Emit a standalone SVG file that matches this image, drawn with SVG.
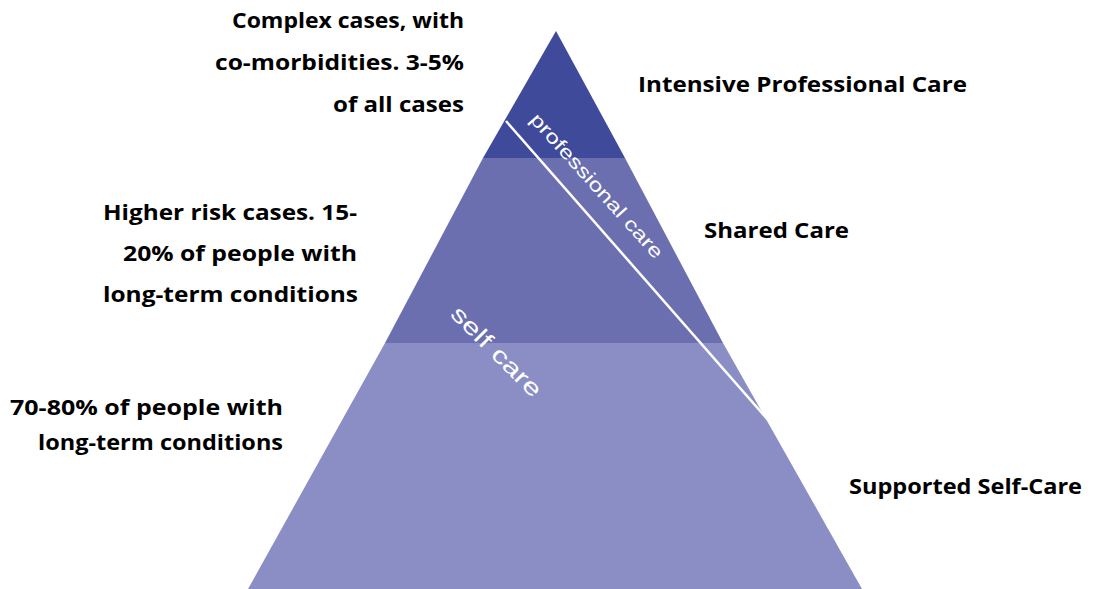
<svg xmlns="http://www.w3.org/2000/svg" width="1102" height="589" viewBox="0 0 1102 589">
<style>
.lbl{font-family:"Open Sans","Liberation Sans",sans-serif;font-weight:bold;font-size:22px;fill:#000}
.in{font-family:"Liberation Sans",Arial,sans-serif;fill:#fff}
</style>
<rect width="1102" height="589" fill="#fff"/>
<g id="pyramid">
<polygon id="band-bottom" points="248,589 862,589 723,343 385,343" fill="#8A8EC4"/>
<polygon id="band-middle" points="385,343 723,343 625,158 483,158" fill="#6B6FB0"/>
<polygon id="band-top" points="483,158 625,158 556,31" fill="#3F4A9B"/>
</g>
<g id="connectors">
<line x1="506" y1="121" x2="769" y2="421" stroke="#fff" stroke-width="2.5"/>
</g>
<g id="inner-labels">
<text class="in" font-size="19" x="592" y="190" text-anchor="middle" transform="rotate(48 592 190)" textLength="188" lengthAdjust="spacingAndGlyphs">professional care</text>
<text class="in" font-size="23" x="491" y="357" text-anchor="middle" transform="rotate(45 491 357)" textLength="118" lengthAdjust="spacingAndGlyphs">self care</text>
</g>
<g id="left-top">
<text class="lbl" x="464" y="28" text-anchor="end" textLength="232" lengthAdjust="spacingAndGlyphs">Complex cases, with</text>
<text class="lbl" x="464" y="70" text-anchor="end" textLength="249" lengthAdjust="spacingAndGlyphs">co-morbidities. 3-5%</text>
<text class="lbl" x="464" y="112" text-anchor="end" textLength="131" lengthAdjust="spacingAndGlyphs">of all cases</text>
</g>
<g id="left-middle">
<text class="lbl" x="357" y="220" text-anchor="end" textLength="254" lengthAdjust="spacingAndGlyphs">Higher risk cases. 15-</text>
<text class="lbl" x="357" y="261" text-anchor="end" textLength="234" lengthAdjust="spacingAndGlyphs">20% of people with</text>
<text class="lbl" x="358" y="302" text-anchor="end" textLength="255" lengthAdjust="spacingAndGlyphs">long-term conditions</text>
</g>
<g id="left-bottom">
<text class="lbl" x="283" y="415" text-anchor="end" textLength="273" lengthAdjust="spacingAndGlyphs">70-80% of people with</text>
<text class="lbl" x="283" y="450" text-anchor="end" textLength="245" lengthAdjust="spacingAndGlyphs">long-term conditions</text>
</g>
<g id="right-top">
<text class="lbl" x="638" y="92" textLength="329" lengthAdjust="spacingAndGlyphs">Intensive Professional Care</text>
</g>
<g id="right-middle">
<text class="lbl" x="704" y="238" textLength="145" lengthAdjust="spacingAndGlyphs">Shared Care</text>
</g>
<g id="right-bottom">
<text class="lbl" x="849" y="494" textLength="233" lengthAdjust="spacingAndGlyphs">Supported Self-Care</text>
</g>
</svg>
